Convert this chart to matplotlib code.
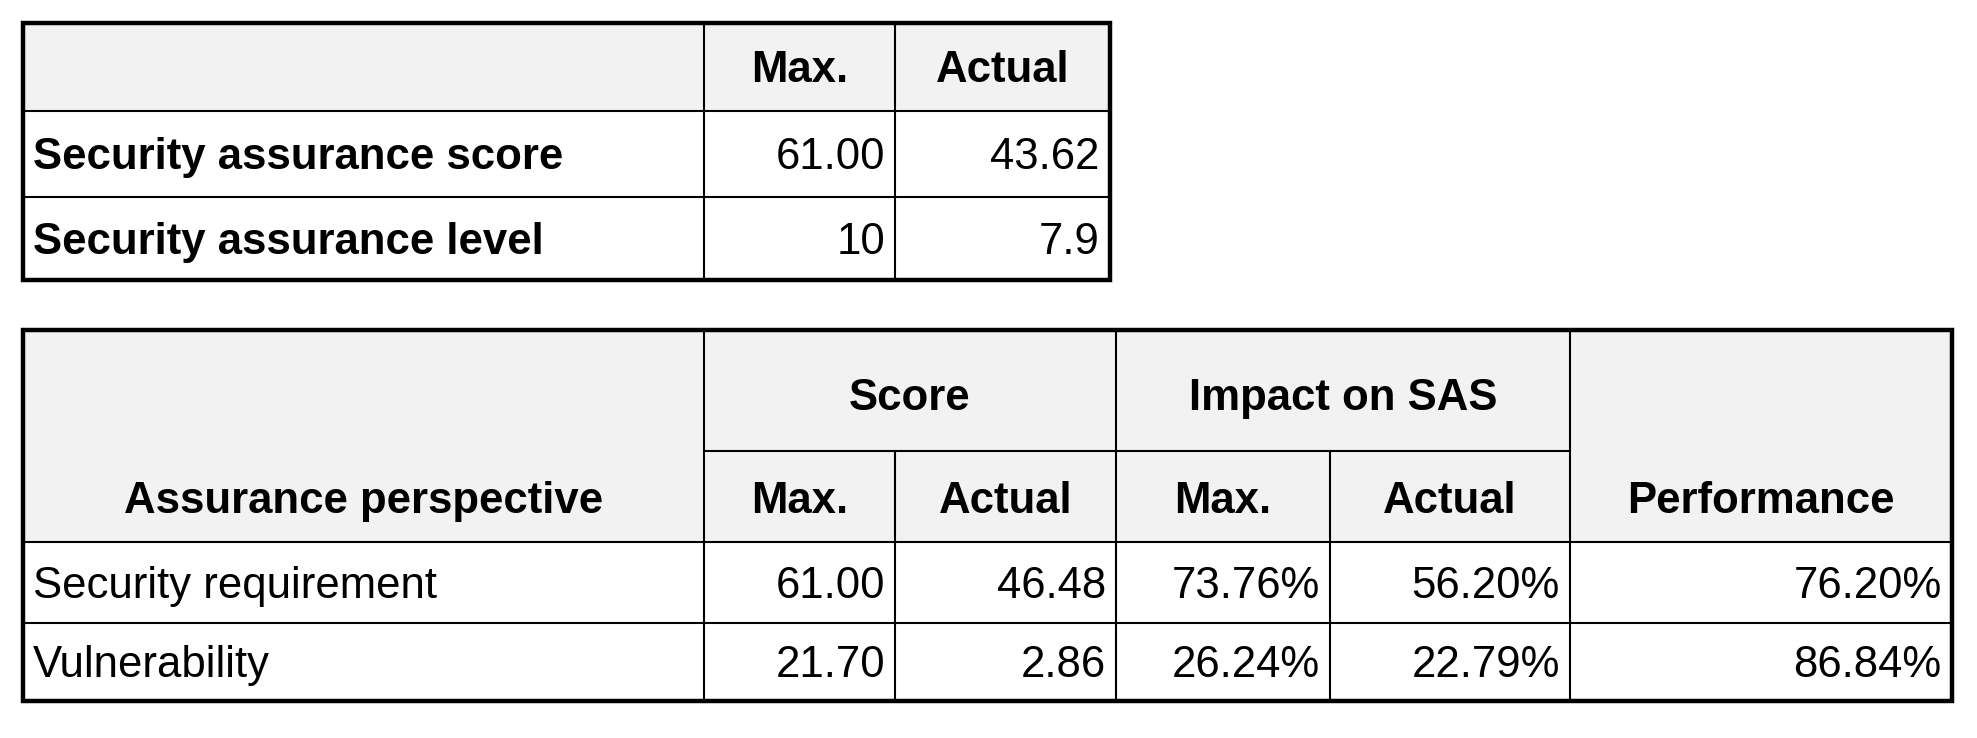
import matplotlib
matplotlib.use("Agg")
import matplotlib.pyplot as plt
from matplotlib.patches import Rectangle

# data
t1_cols = ["Max.", "Actual"]
t1_rows = ["Security assurance score", "Security assurance level"]
t1_max = ["61.00", "10"]
t1_act = ["43.62", "7.9"]

t2_groups = ["Score", "Impact on SAS"]
t2_sub = ["Max.", "Actual", "Max.", "Actual"]
t2_rows = ["Security requirement", "Vulnerability"]
score_max = ["61.00", "21.70"]
score_act = ["46.48", "2.86"]
impact_max = ["73.76%", "26.24%"]
impact_act = ["56.20%", "22.79%"]
performance = ["76.20%", "86.84%"]

W, H = 1977, 738
S = 1977 / 1568
fig = plt.figure(figsize=(W/100, H/100), dpi=100)
ax = fig.add_axes([0, 0, 1, 1])
ax.set_xlim(0, W/S); ax.set_ylim(H/S, 0); ax.axis("off")
FS = 31.5
FONT = "Liberation Sans"
GRAY = "#f2f2f2"
LW_IN, LW_OUT = 1.5, 3.2

def line(x0, y0, x1, y1, lw=LW_IN):
    ax.plot([x0, x1], [y0, y1], color="black", lw=lw, solid_capstyle="projecting")

def txt(x, y, s, ha="left", bold=False):
    ax.text(x, y, s, ha=ha, va="center", fontsize=FS, family=FONT,
            fontweight="bold" if bold else "normal")

# ---- table 1
xs = [18, 558, 710, 880]
ys = [18, 88, 156, 222]
ax.add_patch(Rectangle((xs[0], ys[0]), xs[-1]-xs[0], ys[1]-ys[0], color=GRAY, lw=0))
for x in xs[1:-1]:
    line(x, ys[0], x, ys[-1])
for y in ys[1:-1]:
    line(xs[0], y, xs[-1], y)
ax.add_patch(Rectangle((xs[0], ys[0]), xs[-1]-xs[0], ys[-1]-ys[0], fill=False, lw=LW_OUT))
for i, c in enumerate(t1_cols):
    txt((xs[i+1]+xs[i+2])/2, (ys[0]+ys[1])/2 + 3, c, ha="center", bold=True)
for r in range(2):
    yc = (ys[r+1]+ys[r+2])/2 + 3
    txt(xs[0]+8, yc, t1_rows[r], bold=True)
    txt(xs[2]-8, yc, t1_max[r], ha="right")
    txt(xs[3]-8, yc, t1_act[r], ha="right")

# ---- table 2
xs = [18, 558, 710, 885, 1055, 1245, 1548]
ys = [262, 358, 430, 494, 556]
ax.add_patch(Rectangle((xs[0], ys[0]), xs[-1]-xs[0], ys[2]-ys[0], color=GRAY, lw=0))
line(xs[1], ys[1], xs[5], ys[1])
for y in ys[2:-1]:
    line(xs[0], y, xs[-1], y)
for x in (xs[1], xs[3], xs[5]):
    line(x, ys[0], x, ys[-1])
for x in (xs[2], xs[4]):
    line(x, ys[1], x, ys[-1])
ax.add_patch(Rectangle((xs[0], ys[0]), xs[-1]-xs[0], ys[-1]-ys[0], fill=False, lw=LW_OUT))
hy = (ys[0]+ys[1])/2 + 6
txt((xs[1]+xs[3])/2, hy, t2_groups[0], ha="center", bold=True)
txt((xs[3]+xs[5])/2, hy, t2_groups[1], ha="center", bold=True)
sy = (ys[1]+ys[2])/2 + 4
for i, s in enumerate(t2_sub):
    txt((xs[i+1]+xs[i+2])/2, sy, s, ha="center", bold=True)
txt((xs[0]+xs[1])/2, sy, "Assurance perspective", ha="center", bold=True)
txt((xs[5]+xs[6])/2, sy, "Performance", ha="center", bold=True)
cols = [score_max, score_act, impact_max, impact_act, performance]
for r in range(2):
    yc = (ys[r+2]+ys[r+3])/2 + 3
    txt(xs[0]+8, yc, t2_rows[r])
    for j, col in enumerate(cols):
        txt(xs[j+2]-8, yc, col[r], ha="right")

fig.savefig("out.png", dpi=100)
